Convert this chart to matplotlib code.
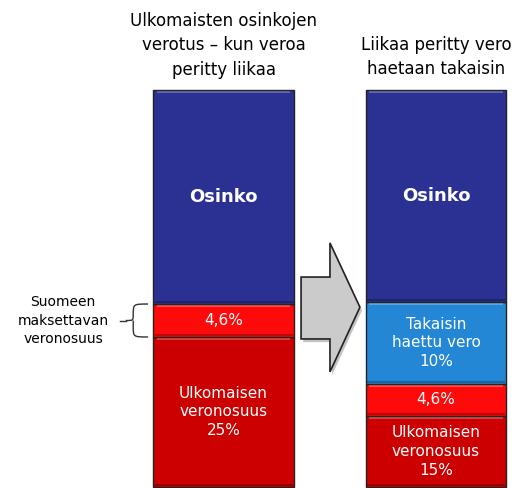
import numpy as np
import matplotlib.pyplot as plt
from matplotlib.patches import Polygon, PathPatch
from matplotlib.path import Path

# segment heights (share of bar height as drawn), bottom -> top
left_heights = [37.8, 8.3, 53.9]
left_colors = ['#cc0000', '#ff0a0a', '#2b3192']
left_labels = ['Ulkomaisen\nveronosuus\n25%', '4,6%', 'Osinko']

right_heights = [17.9, 8.1, 20.6, 53.4]
right_colors = ['#cc0000', '#ff0a0a', '#2387d6', '#2b3192']
right_labels = ['Ulkomaisen\nveronosuus\n15%', '4,6%', 'Takaisin\nhaettu vero\n10%', 'Osinko']

titles = ['Ulkomaisten osinkojen\nverotus – kun veroa\nperitty liikaa',
          'Liikaa peritty vero\nhaetaan takaisin']
side_note = 'Suomeen\nmaksettavan\nveronosuus'

fig = plt.figure(figsize=(5.18, 4.88), dpi=100)
ax = fig.add_axes([0, 0, 1, 1])
ax.set_xlim(-1.052, 1.386)
ax.set_ylim(-0.25, 122.7)
ax.axis('off')

width = 0.66
bars = [(0, left_heights, left_colors, left_labels),
        (1, right_heights, right_colors, right_labels)]
for x, heights, colors, labels in bars:
    bottoms = np.concatenate([[0], np.cumsum(heights)[:-1]])
    ax.bar([x] * len(heights), heights, bottom=bottoms, width=width,
           color=colors, edgecolor='#222222', linewidth=1.0, zorder=2)
    # soft bevel near the top and bottom of each segment
    for b, h, c in zip(bottoms, heights, colors):
        ax.plot([x - width / 2 + 0.02, x + width / 2 - 0.02], [b + h - 0.6] * 2,
                color='white', alpha=0.25, lw=1.5, zorder=3)
        ax.plot([x - width / 2 + 0.01, x + width / 2 - 0.01], [b + 0.5] * 2,
                color='black', alpha=0.25, lw=1.5, zorder=3)
    for b, h, lab in zip(bottoms, heights, labels):
        big = lab == 'Osinko'
        ax.text(x, b + h / 2, lab, ha='center', va='center', color='white',
                fontsize=13 if big else 11, fontweight='bold' if big else 'normal',
                linespacing=1.3, zorder=4)

ax.text(0, 111.3, titles[0], ha='center', va='center', fontsize=12, linespacing=1.45)
ax.text(1, 108.3, titles[1], ha='center', va='center', fontsize=12, linespacing=1.45)

# arrow between bars
shadow = Polygon([(0.375, 52.1), (0.511, 52.1), (0.511, 60.7), (0.652, 44.5),
                  (0.511, 28.2), (0.511, 36.5), (0.375, 36.5)],
                 closed=True, facecolor='#888888', edgecolor='none', alpha=0.5, zorder=1)
ax.add_patch(shadow)
arrow = Polygon([(0.365, 52.9), (0.501, 52.9), (0.501, 61.5), (0.642, 45.3),
                 (0.501, 29.0), (0.501, 37.3), (0.365, 37.3)],
                closed=True, facecolor='#cbcbcb', edgecolor='#222222', lw=1.2, zorder=2)
ax.add_patch(arrow)

# curly bracket around the 4,6% segment of the left bar
y0 = left_heights[0]
y1 = left_heights[0] + left_heights[1]
ym = (y0 + y1) / 2
xb, xo = -0.425, -0.355
verts = [(xo, y1), (xb, y1), (xb, y1), (xb, ym + 1.5),
         (xb, ym), (xb, ym), (xb - 0.035, ym),
         (xb, ym), (xb, ym), (xb, ym - 1.5),
         (xb, y0), (xb, y0), (xo, y0)]
codes = [Path.MOVETO, Path.CURVE4, Path.CURVE4, Path.CURVE4,
         Path.CURVE4, Path.CURVE4, Path.LINETO,
         Path.MOVETO, Path.LINETO, Path.LINETO,
         Path.CURVE4, Path.CURVE4, Path.CURVE4]
ax.add_patch(PathPatch(Path(verts, codes), facecolor='none', edgecolor='#333333', lw=1.0))
ax.plot([xb - 0.035, xb - 0.06], [ym, ym], color='#333333', lw=1.0)

ax.text(-0.755, ym, side_note, ha='center', va='center', fontsize=10, linespacing=1.45)

fig.savefig('out.png', dpi=100)
